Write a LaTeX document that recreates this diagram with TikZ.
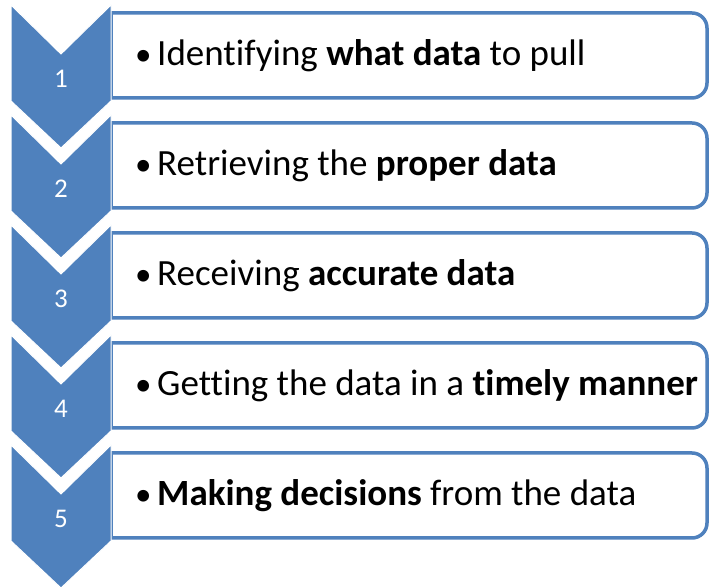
\documentclass[tikz,border=0pt]{standalone}
\usepackage{fontspec}
\setmainfont{Carlito}[Ligatures=NoCommon]
\definecolor{chevblue}{HTML}{4F81BD}
\begin{document}
\begin{tikzpicture}[x=1pt,y=1pt,
  chevron/.style={fill=chevblue,draw=white,line width=1pt},
  listbox/.style={draw=chevblue,fill=white,line width=3.5pt},
  numlabel/.style={text=white,font=\fontsize{27}{32}\selectfont,anchor=base,inner sep=0pt},
  itemtext/.style={text=black,font=\fontsize{37}{44}\selectfont,anchor=base west,inner sep=0pt}]
\useasboundingbox (0,0) rectangle (713,588);
\fill[white] (0,0) rectangle (713,588);
% list boxes with rounded right corners
\foreach \i in {0,...,4}{
  \pgfmathsetmacro{\Y}{583-110*\i}
  \draw[listbox] (111,\Y-8) -- (692,\Y-8) arc[start angle=90,end angle=0,radius=15]
    -- (707,\Y-78) arc[start angle=0,end angle=-90,radius=15] -- (111,\Y-93) -- cycle;
}
% chevrons
\foreach \i in {0,...,4}{
  \pgfmathsetmacro{\Y}{583-110*\i}
  \draw[chevron] (11,\Y) -- (61,\Y-49) -- (111,\Y) -- (111,\Y-96) -- (61,\Y-143) -- (11,\Y-96) -- cycle;
}
% step numbers
\foreach \i/\n in {0/1,1/2,2/3,3/4,4/5}{
  \pgfmathsetmacro{\Y}{583-110*\i}
  \node[numlabel] (num\n) at (61,\Y-83) {\n};
}
% item texts, each led by a slightly smaller bullet
\newcommand{\bul}{\makebox[22pt][l]{\fontsize{33}{35}\selectfont\raisebox{0.8pt}{•}}}
\node[itemtext] (item1) at (135,583-61) {\bul Identifying \textbf{what data} to pull};
\node[itemtext] (item2) at (135,473-61) {\bul Retrieving the \textbf{proper data}};
\node[itemtext] (item3) at (135,363-61) {\bul Receiving \textbf{accurate data}};
\node[itemtext] (item4) at (135,253-61) {\bul Getting the data in a \textbf{timely manner}};
\node[itemtext] (item5) at (135,143-61) {\bul \textbf{Making decisions} from the data};
\end{tikzpicture}
\end{document}
